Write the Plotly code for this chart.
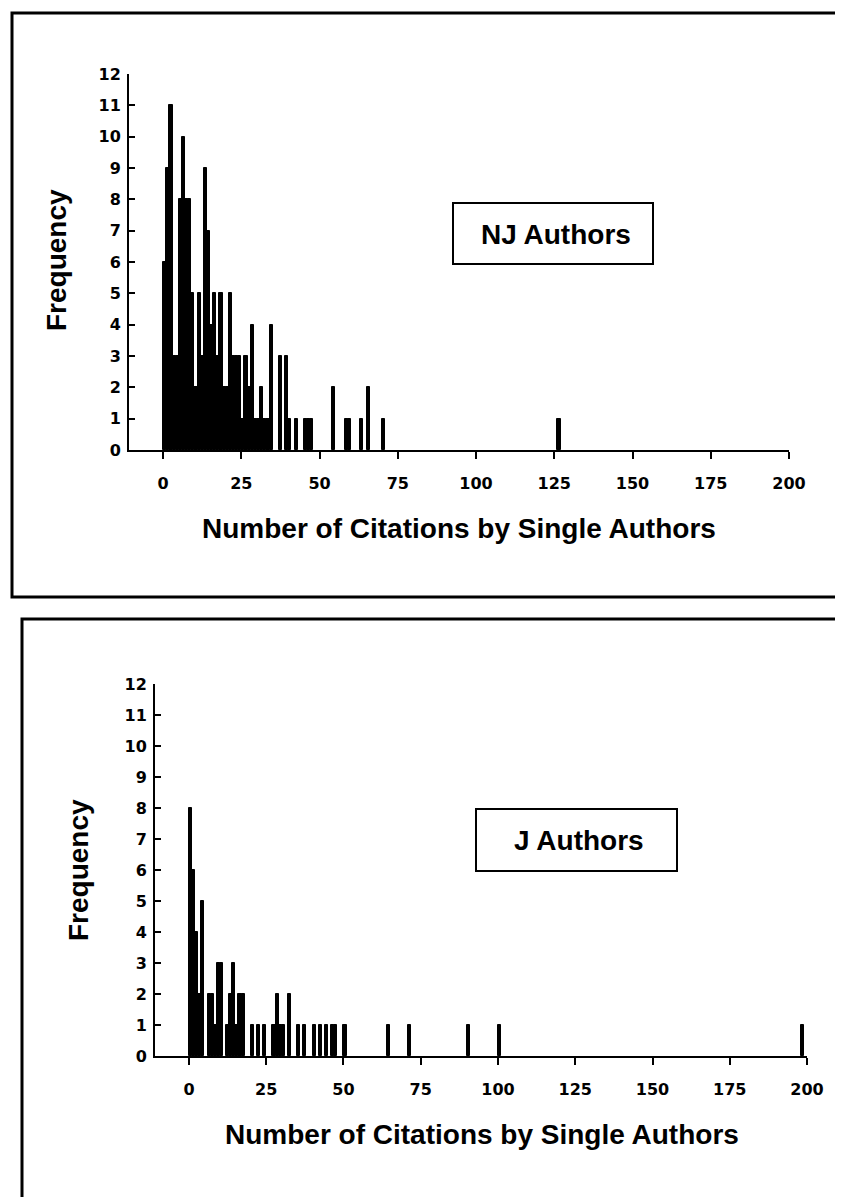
import plotly.graph_objects as go

W, H = 843, 1197

# ---------------- data ----------------
nj_citations = [0, 1, 2, 3, 4, 5, 6, 7, 8, 9, 10, 11, 12, 13, 14, 15, 16, 17, 18, 19,
                20, 21, 22, 23, 24, 25, 26, 27, 28, 29, 30, 31, 32, 33, 34, 37, 39, 40,
                42, 45, 46, 47, 54, 58, 59, 63, 65, 70, 126]
nj_freq = [6, 9, 11, 3, 3, 8, 10, 8, 8, 5, 2, 5, 3, 9, 7, 4, 5, 3, 5, 2,
           2, 5, 3, 3, 3, 1, 3, 2, 4, 1, 1, 2, 1, 1, 4, 3, 3, 1,
           1, 1, 1, 1, 2, 1, 1, 1, 2, 1, 1]

j_citations = [0, 1, 2, 3, 4, 6, 7, 8, 9, 10, 12, 13, 14, 15, 16, 17, 20, 22, 24,
               27, 28, 29, 30, 32, 35, 37, 40, 42, 44, 46, 47, 50, 64, 71, 90, 100, 198]
j_freq = [8, 6, 4, 2, 5, 2, 2, 1, 3, 3, 1, 2, 3, 1, 2, 2, 1, 1, 1,
          1, 2, 1, 1, 2, 1, 1, 1, 1, 1, 1, 1, 1, 1, 1, 1, 1, 1]

x_tick_vals = [0, 25, 50, 75, 100, 125, 150, 175, 200]
y_tick_vals = list(range(0, 13))
x_title = "Number of Citations by Single Authors"
y_title = "Frequency"
panel_labels = ["NJ Authors", "J Authors"]

# ---------------- helpers ----------------
def px(x):
    return x / W

def py(y):
    return 1 - y / H

FONT = "Liberation Sans, Arial, Helvetica, sans-serif"
TICKFONT = "DejaVu Sans, Verdana, sans-serif"
tickfont = dict(family=TICKFONT, size=16, color="black", weight="bold")
bigfont = dict(family=FONT, size=28, color="black", weight="bold")

fig = go.Figure()
fig.add_trace(go.Bar(x=nj_citations, y=nj_freq, width=1, offset=0,
                     marker=dict(color="black", line=dict(color="black", width=1)),
                     xaxis="x", yaxis="y", showlegend=False))
fig.add_trace(go.Bar(x=j_citations, y=j_freq, width=1, offset=0,
                     marker=dict(color="black", line=dict(color="black", width=1)),
                     xaxis="x2", yaxis="y2", showlegend=False))

def xax(domain, rng, anchor):
    return dict(domain=domain, range=rng, anchor=anchor, showgrid=False, zeroline=False,
                showline=True, linecolor="black", linewidth=2,
                ticks="outside", ticklen=7, tickwidth=2, tickcolor="black",
                tickvals=x_tick_vals, ticktext=[str(v) for v in x_tick_vals],
                tickfont=tickfont, ticklabelstandoff=11, automargin=False, fixedrange=True)

def yax(domain, anchor):
    return dict(domain=domain, range=[0, 12], anchor=anchor, showgrid=False, zeroline=False,
                showline=True, linecolor="black", linewidth=2,
                ticks="inside", ticklen=6, tickwidth=2, tickcolor="black",
                tickvals=y_tick_vals, ticktext=[str(v) for v in y_tick_vals],
                tickfont=tickfont, ticklabelstandoff=3, automargin=False, fixedrange=True)

# top chart: x=0 at 155px, x=200 at 781px, y=0 at 442px, y=12 at 66px
# bottom chart: x=0 at 181px, x=200 at 799px, y=0 at 1048px, y=12 at 676px
fig.update_layout(
    width=W, height=H,
    margin=dict(l=0, r=0, t=0, b=0),
    paper_bgcolor="white", plot_bgcolor="white",
    bargap=0,
    xaxis=xax([px(121), px(781)], [-10.9, 200], "y"),
    yaxis=yax([py(442), py(66)], "x"),
    xaxis2=xax([px(147), px(799)], [-11.0, 200], "y2"),
    yaxis2=yax([py(1048), py(676)], "x2"),
)

annotations = []
shapes = []

# axis titles
for (cx, cy) in [(451, 520), (474, 1126)]:
    annotations.append(dict(x=px(cx), y=py(cy), xref="paper", yref="paper",
                            text=x_title, showarrow=False, font=bigfont,
                            xanchor="center", yanchor="middle"))
for (cx, cy) in [(48, 252), (70, 862)]:
    annotations.append(dict(x=px(cx), y=py(cy), xref="paper", yref="paper",
                            text=y_title, showarrow=False, font=bigfont, textangle=-90,
                            xanchor="center", yanchor="middle"))

# label boxes
boxes = [((445, 195, 645, 256), (548, 226), panel_labels[0]),
         ((468, 801, 669, 863), (571, 832), panel_labels[1])]
for (x0, y0, x1, y1), (tx, ty), label in boxes:
    shapes.append(dict(type="rect", xref="paper", yref="paper",
                       x0=px(x0), x1=px(x1), y0=py(y1), y1=py(y0),
                       line=dict(color="black", width=2), fillcolor="white", layer="below"))
    annotations.append(dict(x=px(tx), y=py(ty), xref="paper", yref="paper",
                            text=label, showarrow=False, font=bigfont,
                            xanchor="center", yanchor="middle"))

# panel frames
shapes.append(dict(type="rect", xref="paper", yref="paper",
                   x0=px(4), x1=px(845), y0=py(589), y1=py(5),
                   line=dict(color="black", width=3), fillcolor="rgba(0,0,0,0)"))
shapes.append(dict(type="rect", xref="paper", yref="paper",
                   x0=px(14), x1=px(840), y0=py(1200), y1=py(611),
                   line=dict(color="black", width=3), fillcolor="rgba(0,0,0,0)"))

fig.update_layout(annotations=annotations, shapes=shapes)

fig.write_html("out.html")
